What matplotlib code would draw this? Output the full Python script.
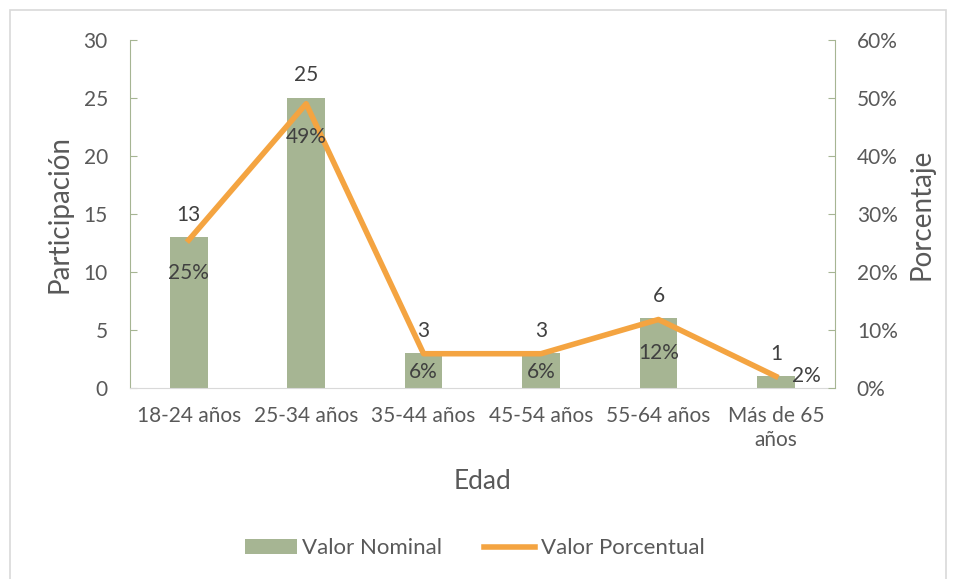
import matplotlib.pyplot as plt
import numpy as np
from matplotlib.patches import Rectangle

plt.rcParams['font.family'] = ['Lato', 'DejaVu Sans']

categorias = ["18-24 años", "25-34 años", "35-44 años", "45-54 años", "55-64 años", "Más de 65\naños"]
nominal = [13, 25, 3, 3, 6, 1]
porcentual = [25.5, 49.0, 5.9, 5.9, 11.8, 2.0]
etiquetas_pct = ["25%", "49%", "6%", "6%", "12%", "2%"]

verde = "#a6b593"
naranja = "#f4a441"
gris = "#595959"
texto = "#404040"

fig = plt.figure(figsize=(9.56, 5.79), dpi=100)
fig.patches.append(Rectangle((10 / 956, -0.01), 936 / 956, 1 - 10 / 579 + 0.01, transform=fig.transFigure,
                             fill=False, edgecolor="#d9d9d9", lw=1.2))

ax = fig.add_axes([0.136, 0.330, 0.737, 0.601])
x = np.arange(len(categorias))
barras = ax.bar(x, nominal, width=0.32, color=verde, label="Valor Nominal", zorder=2)
ax.set_xlim(-0.5, len(categorias) - 0.5)
ax.set_ylim(0, 30)
ax.set_yticks(range(0, 31, 5))

ax2 = ax.twinx()
linea, = ax2.plot(x, porcentual, color=naranja, lw=4, label="Valor Porcentual", zorder=3)
ax2.set_ylim(0, 60)
ax2.set_yticks(range(0, 61, 10))
ax2.set_yticklabels([f"{v}%" for v in range(0, 61, 10)])

for a in (ax, ax2):
    for s in a.spines.values():
        s.set_visible(False)
ax.spines["left"].set_visible(True)
ax.spines["left"].set_color(verde)
ax.spines["bottom"].set_visible(True)
ax.spines["bottom"].set_color("#d9d9d9")
ax2.spines["right"].set_visible(True)
ax2.spines["right"].set_color(verde)

ax.tick_params(axis="y", direction="in", colors=verde, labelcolor=gris, labelsize=15, length=5, pad=16)
ax.tick_params(axis="x", length=0, labelcolor=gris, labelsize=15, pad=13)
ax2.tick_params(axis="y", direction="in", colors=verde, labelcolor=gris, labelsize=15, length=5, pad=16)
ax.set_xticks(x)
ax.set_xticklabels(categorias, linespacing=1.25)

ax.set_ylabel("Participación", fontsize=20, color=gris, labelpad=8)
ax2.set_ylabel("Porcentaje", fontsize=20, color=gris, labelpad=8)
ax.set_xlabel("Edad", fontsize=19, color=gris, labelpad=14)

for xi, v in zip(x, nominal):
    ax.annotate(str(v), (xi, v), xytext=(0, 9), textcoords="offset points",
                ha="center", va="bottom", fontsize=15, color=texto)

for i, (xi, p, t) in enumerate(zip(x, porcentual, etiquetas_pct)):
    if i == len(x) - 1:
        ax2.text(xi + 0.14, p, t, ha="left", va="center", fontsize=15, color=texto, zorder=5)
    else:
        ax2.text(xi, max(p - 5.7, 2.8), t, ha="center", va="center", fontsize=15, color=texto, zorder=5)

fig.legend([barras, linea], ["Valor Nominal", "Valor Porcentual"], loc="center",
           bbox_to_anchor=(0.497, 0.053), ncol=2, frameon=False, fontsize=16,
           labelcolor=gris, handlelength=2.3, handletextpad=0.25, columnspacing=1.9)

fig.savefig("out.png", dpi=100)
